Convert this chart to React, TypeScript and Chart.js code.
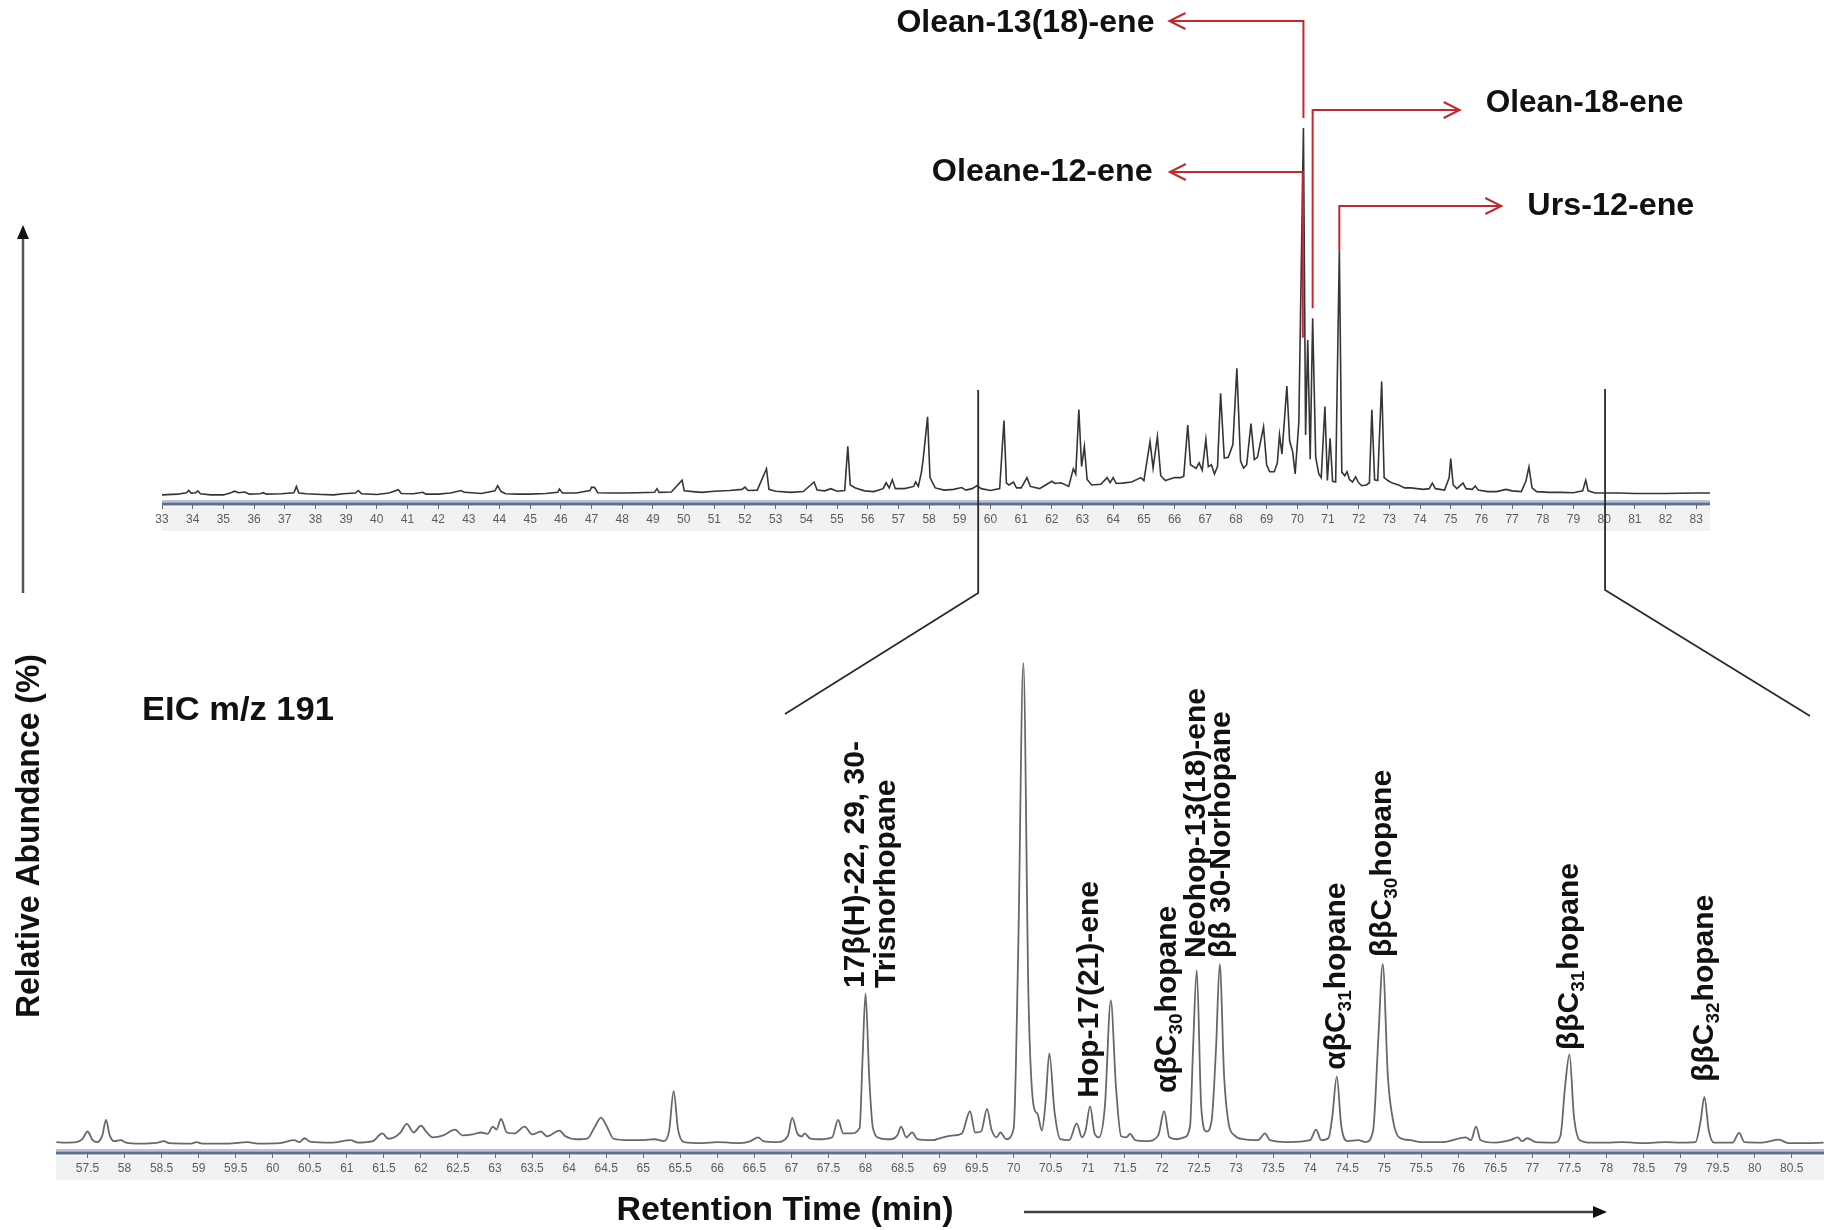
import React, { useEffect, useRef } from "react";
import { Chart, registerables } from "chart.js";

Chart.register(...registerables);

const W = 1824;
const H = 1230;
const SANS = "'Liberation Sans', Arial, Helvetica, sans-serif";
const NARROW = "'Liberation Sans Narrow', 'Arial Narrow', 'Liberation Sans', Arial, sans-serif";

// ---------- tick labels ----------
const topTicks = [33, 34, 35, 36, 37, 38, 39, 40, 41, 42, 43, 44, 45, 46, 47, 48, 49, 50, 51, 52, 53, 54, 55, 56, 57, 58, 59, 60, 61, 62, 63, 64, 65, 66, 67, 68, 69, 70, 71, 72, 73, 74, 75, 76, 77, 78, 79, 80, 81, 82, 83];
const bottomTicks = [57.5, 58, 58.5, 59, 59.5, 60, 60.5, 61, 61.5, 62, 62.5, 63, 63.5, 64, 64.5, 65, 65.5, 66, 66.5, 67, 67.5, 68, 68.5, 69, 69.5, 70, 70.5, 71, 71.5, 72, 72.5, 73, 73.5, 74, 74.5, 75, 75.5, 76, 76.5, 77, 77.5, 78, 78.5, 79, 79.5, 80, 80.5];

// ---------- full chromatogram (retention time, relative abundance %) ----------
const topTrace: [number, number][] = [
  [33.0, 0.3], [33.5, 0.5], [33.8, 0.9], [33.87, 1.5], [33.95, 0.8], [34.1, 0.9], [34.17, 1.4], [34.25, 0.6], [34.6, 0.3],
  [35.0, 0.3], [35.25, 0.9], [35.36, 1.3], [35.5, 0.9], [35.7, 1.1], [35.85, 0.5], [36.2, 0.6], [36.3, 0.9], [36.4, 0.5],
  [36.9, 0.6], [37.3, 0.9], [37.38, 2.6], [37.46, 0.8], [37.7, 0.6], [38.2, 0.4], [38.6, 0.3], [38.9, 0.6], [39.3, 0.8],
  [39.4, 1.5], [39.5, 0.6], [40.0, 0.4], [40.4, 0.8], [40.7, 1.7], [40.8, 0.7], [41.2, 0.6], [41.5, 1.0], [41.6, 0.5],
  [42.0, 0.5], [42.4, 0.8], [42.75, 1.5], [42.85, 1.0], [43.1, 0.9], [43.4, 0.7], [43.85, 1.4], [43.94, 2.8], [44.05, 1.2],
  [44.2, 0.6], [44.6, 0.5], [45.0, 0.5], [45.5, 0.7], [45.9, 1.0], [45.95, 1.9], [46.05, 0.8], [46.5, 0.8], [46.95, 1.5],
  [47.0, 2.4], [47.1, 2.3], [47.2, 0.9], [47.6, 0.8], [48.0, 0.8], [48.5, 0.9], [49.05, 1.0], [49.13, 2.0], [49.2, 1.0],
  [49.6, 1.1], [49.95, 4.3], [50.02, 1.4], [50.3, 1.2], [50.6, 1.0], [51.0, 1.3], [51.5, 1.5], [51.9, 1.8], [52.0, 2.4],
  [52.1, 1.5], [52.4, 1.6], [52.7, 7.4], [52.78, 1.8], [53.0, 1.3], [53.5, 1.0], [53.9, 1.2], [54.25, 3.8], [54.35, 1.6],
  [54.6, 1.4], [54.8, 2.0], [55.0, 1.3], [55.25, 1.5], [55.35, 13.5], [55.43, 3.0], [55.6, 2.2], [55.9, 1.4], [56.2, 1.2],
  [56.5, 2.0], [56.6, 3.6], [56.7, 2.2], [56.8, 4.4], [56.9, 2.0], [57.2, 2.0], [57.5, 2.6], [57.56, 3.8], [57.65, 2.6],
  [57.75, 6.5], [57.8, 9.5], [57.95, 21.5], [58.03, 5.0], [58.2, 2.2], [58.5, 1.6], [58.8, 1.8], [59.06, 2.3], [59.2, 1.6],
  [59.4, 2.0], [59.56, 2.8], [59.7, 2.0], [60.0, 1.5], [60.3, 2.0], [60.44, 20.5], [60.52, 3.5], [60.6, 3.0], [60.75, 3.8],
  [60.85, 2.2], [61.0, 2.2], [61.19, 5.0], [61.3, 2.6], [61.6, 2.0], [61.8, 3.0], [62.0, 4.0], [62.1, 3.4], [62.3, 3.6],
  [62.55, 2.6], [62.7, 7.4], [62.78, 6.0], [62.88, 23.5], [62.97, 8.0], [63.06, 13.5], [63.15, 4.5], [63.3, 3.0], [63.6, 3.2],
  [63.8, 5.0], [63.9, 3.6], [64.0, 5.0], [64.1, 3.4], [64.3, 3.5], [64.6, 3.8], [64.9, 5.0], [65.0, 4.2], [65.2, 14.8],
  [65.3, 7.6], [65.44, 16.1], [65.55, 5.5], [65.7, 4.2], [66.0, 5.0], [66.2, 5.0], [66.3, 5.4], [66.43, 19.3], [66.52, 8.5],
  [66.7, 7.5], [66.8, 9.0], [66.9, 7.0], [67.02, 15.4], [67.1, 8.0], [67.2, 8.5], [67.3, 6.0], [67.4, 8.0], [67.5, 27.9],
  [67.62, 10.3], [67.75, 10.5], [67.9, 14.0], [68.03, 34.7], [68.15, 9.5], [68.25, 7.6], [68.35, 8.5], [68.49, 19.7],
  [68.6, 9.9], [68.7, 10.5], [68.9, 18.8], [69.0, 8.5], [69.1, 6.6], [69.25, 6.6], [69.35, 9.0], [69.42, 16.6], [69.5, 11.4],
  [69.66, 29.9], [69.75, 15.0], [69.85, 12.0], [69.93, 6.0], [70.05, 20.0], [70.2, 100], [70.27, 16.6], [70.34, 42.4],
  [70.42, 10.0], [70.5, 48.3], [70.6, 10.5], [70.7, 6.0], [70.78, 5.0], [70.9, 24.3], [70.98, 4.2], [71.07, 15.7],
  [71.15, 4.0], [71.25, 3.8], [71.37, 66.8], [71.45, 6.5], [71.55, 5.5], [71.62, 6.6], [71.7, 4.5], [71.8, 3.8], [71.9, 5.2],
  [72.0, 3.6], [72.1, 2.8], [72.25, 3.0], [72.35, 3.6], [72.43, 23.4], [72.52, 4.4], [72.62, 4.2], [72.75, 31.1], [72.83, 5.0],
  [72.95, 4.2], [73.1, 3.5], [73.3, 3.0], [73.5, 2.2], [73.7, 2.2], [73.9, 2.0], [74.1, 1.8], [74.3, 2.0], [74.4, 3.5],
  [74.5, 2.0], [74.8, 1.6], [74.95, 5.0], [75.0, 10.2], [75.08, 3.0], [75.2, 2.0], [75.4, 3.5], [75.5, 2.0], [75.7, 1.8],
  [75.8, 2.7], [75.9, 1.6], [76.2, 1.2], [76.5, 1.2], [76.8, 1.8], [77.0, 1.4], [77.3, 1.2], [77.45, 4.0], [77.55, 7.9],
  [77.65, 2.2], [77.8, 1.2], [78.2, 1.0], [78.6, 1.0], [79.0, 0.9], [79.3, 1.4], [79.4, 4.3], [79.48, 1.4], [79.7, 0.8],
  [80.0, 0.8], [80.5, 0.8], [81.0, 0.7], [82.0, 0.7], [83.0, 0.8], [83.45, 0.8],
];

// ---------- expanded EIC m/z 191 (retention time, relative abundance %) ----------
const bottomTrace: [number, number][] = [
  [57.08, 0.6], [57.2, 0.5], [57.35, 0.6], [57.43, 1.2], [57.5, 2.8], [57.57, 1.0], [57.63, 0.6], [57.7, 2.0], [57.75, 5.2],
  [57.8, 2.0], [57.86, 0.8], [57.95, 1.0], [58.02, 0.5], [58.2, 0.3], [58.45, 0.5], [58.53, 0.8], [58.6, 0.4], [58.9, 0.3],
  [58.97, 0.6], [59.05, 0.3], [59.4, 0.3], [59.66, 0.6], [59.8, 0.3], [60.1, 0.4], [60.29, 1.0], [60.36, 0.6], [60.43, 1.4],
  [60.5, 0.7], [60.8, 0.5], [61.05, 1.0], [61.15, 0.5], [61.35, 0.8], [61.48, 2.4], [61.56, 1.3], [61.64, 1.6], [61.72, 2.5],
  [61.81, 4.4], [61.9, 2.6], [62.0, 4.0], [62.08, 2.6], [62.16, 1.6], [62.3, 2.0], [62.46, 3.2], [62.56, 2.0], [62.7, 2.2],
  [62.81, 2.6], [62.9, 2.3], [62.97, 3.8], [63.02, 3.2], [63.08, 5.4], [63.16, 2.6], [63.26, 2.4], [63.4, 3.8], [63.5, 2.2],
  [63.62, 2.8], [63.7, 1.8], [63.87, 3.0], [63.95, 1.8], [64.1, 1.2], [64.25, 1.4], [64.34, 3.6], [64.43, 5.7], [64.51, 3.8],
  [64.6, 1.3], [64.8, 1.0], [65.0, 1.0], [65.15, 1.2], [65.28, 0.8], [65.35, 3.0], [65.41, 11.2], [65.47, 3.2], [65.55, 0.6],
  [65.8, 0.4], [66.0, 0.6], [66.3, 0.4], [66.45, 0.8], [66.55, 1.6], [66.62, 0.8], [66.8, 0.6], [66.95, 1.8], [67.01, 5.6],
  [67.08, 2.4], [67.14, 1.8], [67.18, 2.4], [67.25, 1.4], [67.4, 1.2], [67.55, 1.6], [67.63, 5.2], [67.7, 2.4], [67.8, 2.4],
  [67.92, 3.5], [67.96, 18], [68.0, 31.4], [68.05, 14], [68.1, 3.5], [68.2, 1.4], [68.35, 1.2], [68.43, 2.0], [68.48, 3.8],
  [68.55, 1.6], [68.63, 2.6], [68.7, 1.2], [68.9, 1.0], [69.0, 1.4], [69.1, 1.8], [69.2, 2.0], [69.3, 2.4], [69.41, 7.0],
  [69.48, 2.6], [69.56, 2.8], [69.64, 7.5], [69.7, 3.2], [69.77, 1.6], [69.82, 2.6], [69.9, 1.2], [70.0, 3.5], [70.06, 40],
  [70.13, 100], [70.2, 30], [70.27, 8], [70.32, 6.5], [70.38, 3], [70.43, 9], [70.48, 19], [70.55, 7], [70.63, 1.2],
  [70.75, 1.0], [70.85, 4.5], [70.92, 1.6], [70.97, 3], [71.03, 8], [71.09, 2.5], [71.15, 1.6], [71.23, 8], [71.31, 30],
  [71.38, 12], [71.45, 1.8], [71.52, 1.6], [71.57, 2.3], [71.64, 1.0], [71.8, 0.8], [71.95, 2.0], [72.03, 7.0], [72.1, 1.6],
  [72.2, 1.2], [72.3, 1.6], [72.38, 4], [72.42, 20], [72.47, 36.3], [72.53, 8], [72.6, 2.8], [72.67, 5], [72.73, 20],
  [72.78, 37.5], [72.84, 14], [72.9, 4.5], [72.98, 2.0], [73.1, 1.2], [73.3, 1.0], [73.39, 2.4], [73.46, 1.0], [73.7, 0.6],
  [74.0, 1.0], [74.08, 3.2], [74.15, 1.0], [74.25, 1.5], [74.3, 6], [74.36, 14.2], [74.42, 4], [74.5, 0.8], [74.65, 1.0],
  [74.75, 0.6], [74.85, 3], [74.92, 22], [74.98, 37.5], [75.05, 14], [75.12, 5], [75.2, 1.6], [75.35, 1.0], [75.5, 0.6],
  [75.8, 0.6], [76.1, 1.6], [76.17, 1.0], [76.24, 3.8], [76.3, 1.0], [76.5, 0.5], [76.7, 1.0], [76.8, 1.6], [76.86, 0.8],
  [76.93, 1.4], [77.05, 0.6], [77.3, 0.5], [77.38, 2], [77.44, 12], [77.5, 18.8], [77.56, 6], [77.64, 1.0], [77.8, 0.5],
  [78.0, 0.5], [78.2, 0.6], [78.5, 0.4], [78.8, 0.6], [79.0, 0.5], [79.2, 0.6], [79.27, 5], [79.32, 10], [79.38, 3],
  [79.45, 0.5], [79.7, 0.5], [79.79, 2.5], [79.86, 0.6], [80.1, 0.5], [80.33, 1.1], [80.45, 0.4], [80.7, 0.4], [80.93, 0.5],
];

// ---------- compound labels ----------
type Part = { s: string; sub?: boolean };
const bottomLabels: { parts: Part[]; t: number; dx: number; level: number }[] = [
  { parts: [{ s: "17β(H)-22, 29, 30-" }], t: 68.0, dx: -10, level: 32.6 },
  { parts: [{ s: "Trisnorhopane" }], t: 68.0, dx: 21, level: 32.6 },
  { parts: [{ s: "Hop-17(21)-ene" }], t: 71.03, dx: 0, level: 9.8 },
  { parts: [{ s: "αβC" }, { s: "30", sub: true }, { s: "hopane" }], t: 72.03, dx: 4, level: 10.8 },
  { parts: [{ s: "Neohop-13(18)-ene" }], t: 72.47, dx: 0, level: 38.8 },
  { parts: [{ s: "ββ 30-Norhopane" }], t: 72.78, dx: 2, level: 38.8 },
  { parts: [{ s: "αβC" }, { s: "31", sub: true }, { s: "hopane" }], t: 74.36, dx: 0, level: 15.6 },
  { parts: [{ s: "ββC" }, { s: "30", sub: true }, { s: "hopane" }], t: 74.98, dx: 0, level: 39.0 },
  { parts: [{ s: "ββC" }, { s: "31", sub: true }, { s: "hopane" }], t: 77.5, dx: 0, level: 19.7 },
  { parts: [{ s: "ββC" }, { s: "32", sub: true }, { s: "hopane" }], t: 79.32, dx: 0, level: 13.1 },
];

const topLabels = [
  { text: "Olean-13(18)-ene", t: 70.2, dir: -1, lineY: 21, textY: 23, endV: 100, endGap: 10, len: 134, gap: 15, width: 258 },
  { text: "Oleane-12-ene", t: 70.18, dir: -1, lineY: 172, textY: 172, endV: 43, endGap: 0, len: 133, gap: 17, width: 221 },
  { text: "Olean-18-ene", t: 70.5, dir: 1, lineY: 110, textY: 103, endV: 48.3, endGap: 10, len: 147, gap: 26, width: 198 },
  { text: "Urs-12-ene", t: 71.37, dir: 1, lineY: 206, textY: 206, endV: 66.8, endGap: 0, len: 162, gap: 26, width: 167 },
];

// ---------- drawing helpers ----------
function fitText(
  ctx: CanvasRenderingContext2D, text: string, x: number, y: number, size: number,
  width: number, align: CanvasTextAlign, rotate = false, color = "#111"
) {
  ctx.save();
  ctx.font = `bold ${size}px ${SANS}`;
  ctx.fillStyle = color;
  ctx.textBaseline = "middle";
  ctx.textAlign = align;
  const w = ctx.measureText(text).width;
  const sx = width > 0 ? width / w : 1;
  ctx.translate(x, y);
  if (rotate) ctx.rotate(-Math.PI / 2);
  ctx.scale(sx, 1);
  ctx.fillText(text, 0, 0);
  ctx.restore();
}

function richVertical(ctx: CanvasRenderingContext2D, parts: Part[], cx: number, yBottom: number, size: number) {
  ctx.save();
  ctx.translate(cx, yBottom);
  ctx.rotate(-Math.PI / 2);
  ctx.fillStyle = "#111";
  ctx.textAlign = "left";
  ctx.textBaseline = "middle";
  let x = 0;
  for (const p of parts) {
    const fs = p.sub ? Math.round(size * 0.62) : size;
    ctx.font = `bold ${fs}px ${SANS}`;
    ctx.fillText(p.s, x, p.sub ? size * 0.3 : 0);
    x += ctx.measureText(p.s).width + (p.sub ? 1 : 0);
  }
  ctx.restore();
}

function filledArrow(ctx: CanvasRenderingContext2D, x1: number, y1: number, x2: number, y2: number, color: string, lw: number) {
  const ang = Math.atan2(y2 - y1, x2 - x1);
  const hl = 14, hw = 6;
  const bx = x2 - hl * Math.cos(ang), by = y2 - hl * Math.sin(ang);
  ctx.save();
  ctx.strokeStyle = color;
  ctx.lineWidth = lw;
  ctx.beginPath();
  ctx.moveTo(x1, y1);
  ctx.lineTo(bx, by);
  ctx.stroke();
  ctx.fillStyle = "#111";
  ctx.beginPath();
  ctx.moveTo(x2, y2);
  ctx.lineTo(bx + hw * Math.sin(ang), by - hw * Math.cos(ang));
  ctx.lineTo(bx - hw * Math.sin(ang), by + hw * Math.cos(ang));
  ctx.closePath();
  ctx.fill();
  ctx.restore();
}

function axisBand(ctx: CanvasRenderingContext2D, left: number, right: number, y: number) {
  ctx.save();
  ctx.fillStyle = "#f1f2f4";
  ctx.fillRect(left, y + 4, right - left, 24);
  ctx.fillStyle = "#b5c2d8";
  ctx.fillRect(left, y - 3, right - left, 2.5);
  ctx.fillStyle = "#5d7092";
  ctx.fillRect(left, y - 0.5, right - left, 3);
  ctx.restore();
}

// ---------- plugins ----------
const topPlugin = {
  id: "topDecor",
  beforeDraw(chart: any) {
    const { left, right, bottom } = chart.chartArea;
    axisBand(chart.ctx, left, right, bottom);
  },
  afterDraw(chart: any) {
    const ctx: CanvasRenderingContext2D = chart.ctx;
    const xs = chart.scales.x;
    const ys = chart.scales.y;

    // red compound call-outs
    const red = "#c3282c";
    for (const a of topLabels) {
      const px = xs.getPixelForValue(a.t);
      const endY = ys.getPixelForValue(a.endV) - a.endGap;
      const tip = px + a.dir * a.len;
      ctx.save();
      ctx.strokeStyle = red;
      ctx.lineWidth = 2;
      ctx.beginPath();
      ctx.moveTo(px, endY);
      ctx.lineTo(px, a.lineY);
      ctx.lineTo(tip, a.lineY);
      ctx.stroke();
      ctx.beginPath();
      ctx.moveTo(tip - a.dir * 16, a.lineY - 8);
      ctx.lineTo(tip, a.lineY);
      ctx.lineTo(tip - a.dir * 16, a.lineY + 8);
      ctx.stroke();
      ctx.restore();
      const tx = tip + a.dir * a.gap;
      fitText(ctx, a.text, tx, a.textY, 32, a.width, a.dir < 0 ? "right" : "left");
    }

    // zoom connector lines
    ctx.save();
    ctx.strokeStyle = "#2a2a2a";
    ctx.lineWidth = 1.8;
    const lx = xs.getPixelForValue(59.6);
    const rx = xs.getPixelForValue(80.03);
    ctx.beginPath();
    ctx.moveTo(lx, 390);
    ctx.lineTo(lx, 593);
    ctx.lineTo(785, 714);
    ctx.stroke();
    ctx.beginPath();
    ctx.moveTo(rx, 389);
    ctx.lineTo(rx, 590);
    ctx.lineTo(1810, 716);
    ctx.stroke();
    ctx.restore();

    // y arrow and label
    filledArrow(ctx, 23, 593, 23, 225, "#555", 2.5);
    fitText(ctx, "Relative Abundance (%)", 30, 836, 34, 364, "center", true);
  },
};

const bottomPlugin = {
  id: "bottomDecor",
  beforeDraw(chart: any) {
    const { left, right, bottom } = chart.chartArea;
    axisBand(chart.ctx, left, right, bottom);
  },
  afterDraw(chart: any) {
    const ctx: CanvasRenderingContext2D = chart.ctx;
    const xs = chart.scales.x;
    const ys = chart.scales.y;
    for (const l of bottomLabels) {
      const cx = xs.getPixelForValue(l.t) + l.dx;
      const yb = ys.getPixelForValue(l.level);
      richVertical(ctx, l.parts, cx, yb, 30);
    }
    fitText(ctx, "EIC m/z 191", 238, 711, 34, 192, "center");
    fitText(ctx, "Retention Time (min)", 785, 1211, 34, 337, "center");
    filledArrow(ctx, 1024, 1212, 1607, 1212, "#444", 2.5);
  },
};

function makeChart(
  canvas: HTMLCanvasElement, trace: [number, number][], ticks: number[],
  xmin: number, xmax: number, ymin: number, padding: any, color: string, width: number,
  smooth: boolean, plugin: any
) {
  return new Chart(canvas, {
    type: "line",
    data: {
      datasets: [
        {
          data: trace.map(([x, y]) => ({ x, y })),
          borderColor: color,
          borderWidth: width,
          pointRadius: 0,
          fill: false,
          tension: 0,
          cubicInterpolationMode: smooth ? "monotone" : "default",
          clip: false as any,
        } as any,
      ],
    },
    options: {
      responsive: false,
      animation: false,
      devicePixelRatio: 1,
      events: [],
      layout: { padding },
      plugins: { legend: { display: false }, tooltip: { enabled: false } },
      scales: {
        x: {
          type: "linear",
          min: xmin,
          max: xmax,
          afterBuildTicks: (scale: any) => {
            scale.ticks = ticks.map((v) => ({ value: v }));
          },
          afterFit: (scale: any) => {
            scale.height = 30;
          },
          ticks: {
            autoSkip: false,
            maxRotation: 0,
            minRotation: 0,
            padding: 3,
            color: "#5c5c5c",
            font: { family: NARROW, size: 12 },
            callback: (v: any) => String(v),
          },
          grid: { display: true, drawOnChartArea: false, drawTicks: true, tickLength: 6, color: "#6a6a6a", lineWidth: 1 },
          border: { display: false },
        },
        y: { display: false, min: ymin, max: 100 },
      },
    } as any,
    plugins: [plugin],
  });
}

export default function App() {
  const topRef = useRef<HTMLCanvasElement>(null);
  const botRef = useRef<HTMLCanvasElement>(null);

  useEffect(() => {
    if (!topRef.current || !botRef.current) return;
    const top = makeChart(
      topRef.current, topTrace, topTicks, 33, 83.45, -1.9,
      { left: 162, right: W - 1710, top: 128, bottom: H - 503 - 30 },
      "#353535", 1.6, false, topPlugin
    );
    const bot = makeChart(
      botRef.current, bottomTrace, bottomTicks, 57.075, 80.935, -1.45,
      { left: 56, right: 0, top: 663, bottom: H - 1152 - 30 },
      "#686868", 1.8, true, bottomPlugin
    );
    return () => {
      top.destroy();
      bot.destroy();
    };
  }, []);

  return (
    <div style={{ position: "absolute", left: 0, top: 0, width: W, height: H, background: "#fff" }}>
      <canvas ref={topRef} width={W} height={H} style={{ position: "absolute", left: 0, top: 0 }} />
      <canvas ref={botRef} width={W} height={H} style={{ position: "absolute", left: 0, top: 0 }} />
    </div>
  );
}
